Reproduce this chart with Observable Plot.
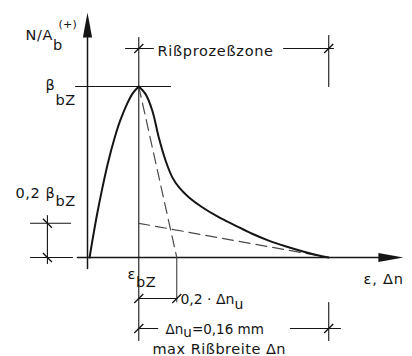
<!DOCTYPE html>
<html>
<head>
<meta charset="utf-8">
<script src="https://cdn.jsdelivr.net/npm/d3@7"></script>
<script src="https://cdn.jsdelivr.net/npm/@observablehq/plot@0.6"></script>
<style>
  html, body { margin: 0; padding: 0; background: #fff; }
  #chart { width: 412px; height: 356px; }
</style>
</head>
<body>
<div id="chart"></div>
<script>
// Normalised units: stress N/A_b in multiples of β_bZ,
// deformation ε, Δn in multiples of the ultimate crack width Δn_u (= 0,16 mm).
const epsBZ = 0.27;                 // strain at peak stress ε_bZ
const dnU = 1.0;                    // Δn_u
const dnEnd = epsBZ + dnU;          // end of the crack process zone
const kink = 0.2;                   // 0,2 · β_bZ and 0,2 · Δn_u

// rising (pre-peak) branch
const riseX = [0.011, 0.026, 0.050, 0.077, 0.107, 0.143, 0.172, 0.209, 0.238, 0.27];
const riseY = [0, 0.10, 0.25, 0.40, 0.55, 0.70, 0.80, 0.90, 0.96, 1.0];

// softening branch after the peak
const fallX = [0.27, 0.305, 0.341, 0.375, 0.411, 0.446, 0.481, 0.533, 0.604, 0.691, 0.779, 0.867, 0.954, 1.042, 1.130, 1.217, 1.27];
const fallY = [1.0, 0.957, 0.860, 0.703, 0.567, 0.470, 0.411, 0.353, 0.294, 0.236, 0.187, 0.139, 0.099, 0.066, 0.037, 0.012, 0];

// bilinear softening approximation
const bilinearSteep = [[epsBZ, 1], [epsBZ + kink * dnU, 0]];
const bilinearFlat = [[epsBZ, kink], [dnEnd, 0]];

// drawing extents (data units)
const xDomain = [-0.458, 1.711];
const yDomain = [-0.579, 1.503];
const yAxisTop = 1.433, yAxisBottom = -0.064;
const xAxisLeft = -0.053, xAxisTip = 1.663;
const yRPZ = 1.222;                 // Rißprozeßzone dimension line
const yExtTop = 1.287;              // top of extension lines
const yExtBottom = -0.485;          // bottom of extension lines
const yD1 = -0.240;                 // 0,2 · Δn_u dimension line
const yD2 = -0.415;                 // Δn_u dimension line
const xB = -0.211;                  // 0,2 β_bZ dimension line

// labels; _{..} marks a subscript
const labelText = ["N/A_{b}", "(+)", "β_{bZ}", "0,2 β_{bZ}", "ε_{bZ}", "ε, Δn",
                   "Rißprozeßzone", "0,2 · Δn_{u}", "Δn_{u}=0,16 mm", "max Rißbreite Δn"];
const labelX = [-0.326, -0.153, -0.221, -0.379, 0.211, 1.453, 0.368, 0.489, 0.411, 0.342];
const labelY = [1.298, 1.365, 1.007, 0.373, -0.096, -0.128, 1.208, -0.243, -0.425, -0.54];
const labelSize = [14.5, 11, 14.5, 14.5, 14.5, 14.5, 14.5, 14, 13.5, 14.5];
const labelSpacing = [0.6, 0.3, 0.6, 0.6, 0.6, 0.8, 0.7, 0, 0, 0.5];
const labelSub = [10, 0, 15, 8, 8, 0, 0, 5, 3, 0];
const labels = labelText.map((t, i) => ({
  t, x: labelX[i], y: labelY[i], fs: labelSize[i], ls: labelSpacing[i], sub: labelSub[i]
}));

// filled arrow head, tip at the origin pointing up
const arrowHead = {draw(ctx) { ctx.moveTo(0, 0); ctx.lineTo(4.6, 25); ctx.lineTo(-4.6, 25); ctx.closePath(); }};
// oblique dimension tick
const slash = {draw(ctx) { ctx.moveTo(-4.5, 4.5); ctx.lineTo(4.5, -4.5); }};

const ink = "#151515";
const seg = (a, b, o = {}) => Plot.line([a, b], {stroke: ink, strokeWidth: 1.1, ...o});

const chart = Plot.plot({
  width: 412,
  height: 356,
  margin: 0,
  x: {domain: xDomain, axis: null},
  y: {domain: yDomain, axis: null},
  style: {fontFamily: "DejaVu Sans", fontSize: "14px", background: "#fff", color: ink},
  marks: [
    // axes
    seg([0, yAxisBottom], [0, yAxisTop - 0.05], {strokeWidth: 1.5}),
    seg([xAxisLeft, 0], [xAxisTip - 0.05, 0], {strokeWidth: 1.5}),
    Plot.dot([[0, yAxisTop]], {symbol: arrowHead, fill: ink, stroke: "none"}),
    Plot.dot([[xAxisTip, 0]], {symbol: arrowHead, fill: ink, stroke: "none", rotate: 90}),

    // reference lines at the peak
    seg([-0.063, 1], [0.437, 1]),
    seg([epsBZ, yExtTop], [epsBZ, yExtBottom]),
    seg([dnEnd, 1.298], [dnEnd, 1]),

    // Rißprozeßzone dimension
    seg([0.2, yRPZ], [0.347, yRPZ]),
    seg([1.032, yRPZ], [1.295, yRPZ]),

    // 0,2 · Δn_u dimension
    seg([epsBZ + kink * dnU, 0], [epsBZ + kink * dnU, -0.26], {strokeWidth: 0.9}),
    seg([epsBZ, yD1], [epsBZ + kink * dnU, yD1]),

    // Δn_u dimension
    seg([dnEnd, -0.263], [dnEnd, yExtBottom]),
    seg([epsBZ, yD2], [0.37, yD2]),
    seg([1.068, yD2], [1.332, yD2]),

    // 0,2 β_bZ dimension
    seg([-0.3, kink], [-0.089, kink]),
    seg([-0.3, 0], [-0.079, 0]),
    seg([xB, 0.246], [xB, -0.035]),

    // dimension ticks
    Plot.dot([[epsBZ, yRPZ], [dnEnd, yRPZ], [epsBZ, yD1], [epsBZ + kink * dnU, yD1], [epsBZ, yD2], [dnEnd, yD2]],
      {symbol: slash, stroke: ink, strokeWidth: 1.3, fill: "none"}),
    Plot.dot([[xB, kink], [xB, 0]], {symbol: slash, stroke: ink, strokeWidth: 1.3, fill: "none", rotate: 90}),

    // bilinear approximation
    Plot.line(bilinearSteep, {stroke: "#4a4a4a", strokeWidth: 1.2, strokeDasharray: "11,6"}),
    Plot.line(bilinearFlat, {stroke: "#4a4a4a", strokeWidth: 1.2, strokeDasharray: "11,6"}),

    // stress–deformation curve
    Plot.line(riseX.map((x, i) => [x, riseY[i]]), {stroke: ink, strokeWidth: 2, curve: "catmull-rom"}),
    Plot.line(fallX.map((x, i) => [x, fallY[i]]), {stroke: ink, strokeWidth: 2, curve: "catmull-rom"}),

    // labels
    Plot.text(labels, {x: "x", y: "y", text: "t", textAnchor: "start", fill: ink, fontSize: "fs"})
  ]
});

document.getElementById("chart").append(chart);

// turn _{..} markup into lowered tspans and apply letter spacing
const byText = new Map(labels.map(d => [d.t, d]));
d3.select(chart).selectAll("text").each(function () {
  const el = d3.select(this);
  const src = this.textContent;
  const info = byText.get(src);
  if (!info) return;
  el.style("letter-spacing", info.ls + "px");
  if (!/_\{/.test(src)) return;
  const parts = [];
  const re = /_\{([^}]*)\}|([^_]+)/g;
  let m;
  while ((m = re.exec(src))) {
    if (m[2]) parts.push({s: m[2], off: 0});
    else parts.push({s: m[1], off: info.sub});
  }
  el.text(null);
  let cur = 0;
  for (const p of parts) {
    const t = el.append("tspan").text(p.s);
    if (p.off !== cur) t.attr("dy", p.off - cur);
    cur = p.off;
  }
});
</script>
</body>
</html>
